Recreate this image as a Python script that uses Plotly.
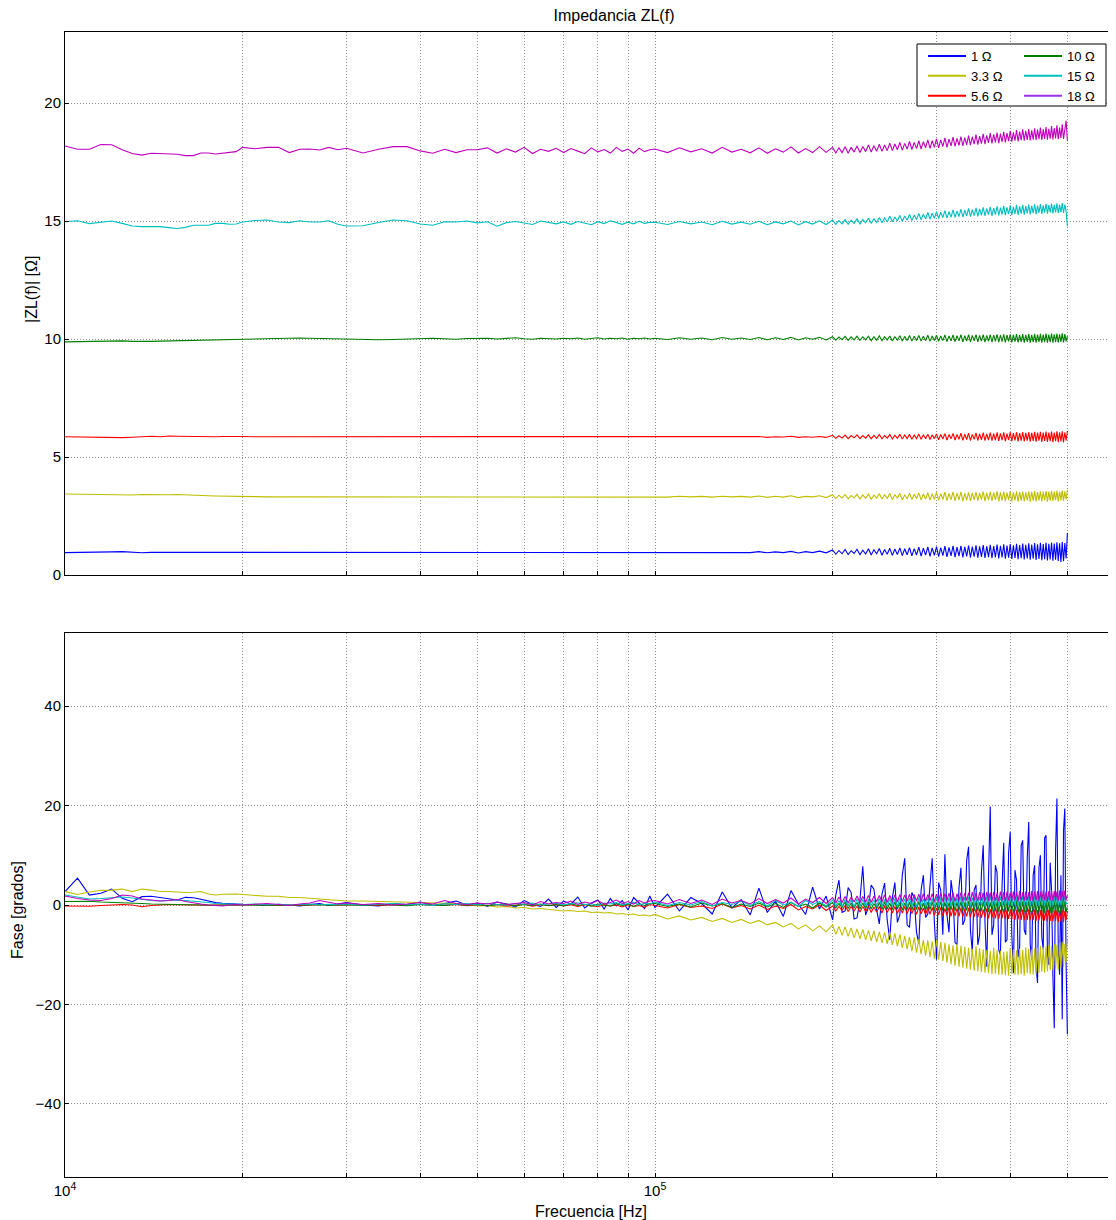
import plotly.graph_objects as go

# ---------------- data ----------------
FREQ_KHZ = [
    10, 10.5, 11, 11.5, 12, 12.5, 13, 13.5, 14, 14.5, 15, 15.5, 16, 16.5, 17, 17.5, 18, 18.5, 19, 19.5,
    20, 21, 22, 23, 24, 25, 26, 27, 28, 29,
    30, 32, 34, 36, 38, 40, 42, 44, 46, 48,
    50, 52, 54, 56, 58, 60, 62, 64, 66, 68,
    70, 72, 74, 76, 78, 80, 82, 84, 86, 88,
    90, 92, 94, 96, 98,
    100, 105, 110, 115, 120, 125, 130, 135, 140, 145,
    150, 155, 160, 165, 170, 175, 180, 185, 190, 195,
    200, 202.5, 205, 207.5, 210, 212.5, 215, 217.5, 220, 222.5,
    225, 227.5, 230, 232.5, 235, 237.5, 240, 242.5, 245, 247.5,
    250, 252.5, 255, 257.5, 260, 262.5, 265, 267.5, 270, 272.5,
    275, 277.5, 280, 282.5, 285, 287.5, 290, 292.5, 295, 297.5,
    300, 302.5, 305, 307.5, 310, 312.5, 315, 317.5, 320, 322.5,
    325, 327.5, 330, 332.5, 335, 337.5, 340, 342.5, 345, 347.5,
    350, 352.5, 355, 357.5, 360, 362.5, 365, 367.5, 370, 372.5,
    375, 377.5, 380, 382.5, 385, 387.5, 390, 392.5, 395, 397.5,
    400, 402.5, 405, 407.5, 410, 412.5, 415, 417.5, 420, 422.5,
    425, 427.5, 430, 432.5, 435, 437.5, 440, 442.5, 445, 447.5,
    450, 452.5, 455, 457.5, 460, 462.5, 465, 467.5, 470, 472.5,
    475, 477.5, 480, 482.5, 485, 487.5, 490, 492.5, 495, 497.5,
    500,
]

SERIES_NAMES = ["1 Ω", "3.3 Ω", "5.6 Ω", "10 Ω", "15 Ω", "18 Ω"]
LINE_COLORS = ["#0000ff", "#bfbf00", "#ff0000", "#008000", "#00bfbf", "#bf00bf"]
LEGEND_COLORS = ["#0000ff", "#bfbf00", "#ff0000", "#008000", "#00bfbf", "#9933e6"]

# |ZL(f)| in ohm
ZL_1 = [
    0.95, 0.95, 0.96, 0.97, 0.98, 0.99, 0.95, 0.94, 0.96, 0.96, 0.96, 0.96, 0.96, 0.96, 0.96, 0.96, 0.96, 0.96, 0.96, 0.96,
    0.96, 0.96, 0.96, 0.95, 0.96, 0.96, 0.96, 0.96, 0.95, 0.96,
    0.96, 0.95, 0.96, 0.96, 0.95, 0.96, 0.96, 0.96, 0.95, 0.96,
    0.96, 0.95, 0.96, 0.96, 0.96, 0.95, 0.96, 0.96, 0.95, 0.96,
    0.96, 0.96, 0.95, 0.96, 0.96, 0.95, 0.97, 0.95, 0.96, 0.96,
    0.95, 0.97, 0.95, 0.96, 0.96,
    0.97, 0.95, 0.98, 0.96, 0.97, 0.95, 0.98, 0.96, 0.97, 0.95,
    0.99, 0.94, 0.98, 0.95, 1.00, 0.93, 0.99, 0.95, 1.01, 0.94,
    1.06, 0.88, 1.04, 0.90, 1.08, 0.87, 1.03, 0.91, 1.09, 0.86,
    1.05, 0.89, 1.11, 0.85, 1.07, 0.90, 1.12, 0.84, 1.08, 0.88,
    1.13, 0.83, 1.10, 0.87, 1.15, 0.82, 1.11, 0.86, 1.16, 0.81,
    1.12, 0.85, 1.18, 0.80, 1.14, 0.84, 1.19, 0.79, 1.15, 0.83,
    1.20, 0.78, 1.16, 0.82, 1.22, 0.77, 1.17, 0.81, 1.23, 0.76,
    1.18, 0.80, 1.24, 0.75, 1.19, 0.79, 1.25, 0.74, 1.20, 0.78,
    1.26, 0.73, 1.21, 0.77, 1.27, 0.72, 1.22, 0.76, 1.28, 0.71,
    1.23, 0.75, 1.29, 0.70, 1.24, 0.74, 1.30, 0.69, 1.25, 0.73,
    1.31, 0.68, 1.26, 0.72, 1.32, 0.67, 1.27, 0.71, 1.33, 0.66,
    1.28, 0.70, 1.34, 0.65, 1.29, 0.69, 1.35, 0.64, 1.30, 0.68,
    1.36, 0.63, 1.31, 0.67, 1.37, 0.62, 1.32, 0.66, 1.38, 0.61,
    1.33, 0.65, 1.39, 0.60, 1.34, 0.55, 1.40, 0.58, 1.35, 0.70,
    1.78,
]
ZL_3_3 = [
    3.43, 3.42, 3.41, 3.40, 3.39, 3.38, 3.39, 3.41, 3.40, 3.39, 3.40, 3.41, 3.39, 3.37, 3.36, 3.36, 3.35, 3.35, 3.34, 3.33,
    3.32, 3.32, 3.31, 3.31, 3.32, 3.31, 3.30, 3.30, 3.31, 3.30,
    3.30, 3.30, 3.29, 3.30, 3.30, 3.29, 3.30, 3.30, 3.29, 3.30,
    3.30, 3.29, 3.30, 3.29, 3.30, 3.30, 3.29, 3.30, 3.30, 3.29,
    3.30, 3.29, 3.31, 3.30, 3.29, 3.30, 3.31, 3.29, 3.30, 3.30,
    3.29, 3.31, 3.30, 3.29, 3.31,
    3.32, 3.30, 3.34, 3.31, 3.33, 3.30, 3.34, 3.31, 3.33, 3.30,
    3.35, 3.29, 3.34, 3.30, 3.36, 3.28, 3.33, 3.31, 3.36, 3.28,
    3.40, 3.24, 3.38, 3.26, 3.41, 3.23, 3.37, 3.27, 3.42, 3.22,
    3.39, 3.25, 3.43, 3.21, 3.38, 3.26, 3.44, 3.22, 3.40, 3.24,
    3.45, 3.20, 3.41, 3.25, 3.46, 3.19, 3.40, 3.23, 3.47, 3.20,
    3.42, 3.24, 3.48, 3.18, 3.43, 3.22, 3.49, 3.17, 3.44, 3.21,
    3.50, 3.16, 3.45, 3.20, 3.51, 3.15, 3.46, 3.19, 3.52, 3.14,
    3.47, 3.18, 3.52, 3.13, 3.46, 3.17, 3.50, 3.14, 3.48, 3.18,
    3.51, 3.15, 3.47, 3.19, 3.53, 3.13, 3.48, 3.17, 3.52, 3.14,
    3.49, 3.18, 3.54, 3.12, 3.50, 3.16, 3.53, 3.13, 3.49, 3.17,
    3.54, 3.12, 3.50, 3.16, 3.55, 3.11, 3.51, 3.15, 3.54, 3.12,
    3.50, 3.16, 3.55, 3.11, 3.52, 3.15, 3.56, 3.12, 3.51, 3.16,
    3.55, 3.12, 3.52, 3.16, 3.56, 3.11, 3.53, 3.15, 3.57, 3.13,
    3.53, 3.17, 3.57, 3.12, 3.54, 3.16, 3.58, 3.14, 3.55, 3.20,
    3.60,
]
ZL_5_6 = [
    5.86, 5.85, 5.83, 5.81, 5.80, 5.82, 5.84, 5.87, 5.88, 5.86, 5.89, 5.88, 5.87, 5.86, 5.85, 5.86, 5.86, 5.87, 5.86, 5.86,
    5.87, 5.86, 5.86, 5.85, 5.86, 5.86, 5.85, 5.86, 5.86, 5.85,
    5.86, 5.86, 5.85, 5.86, 5.86, 5.85, 5.86, 5.87, 5.86, 5.85,
    5.86, 5.86, 5.85, 5.86, 5.86, 5.86, 5.85, 5.86, 5.84, 5.86,
    5.86, 5.85, 5.86, 5.86, 5.85, 5.86, 5.86, 5.85, 5.86, 5.85,
    5.86, 5.86, 5.85, 5.86, 5.85,
    5.86, 5.84, 5.87, 5.85, 5.86, 5.84, 5.87, 5.85, 5.86, 5.84,
    5.87, 5.83, 5.86, 5.85, 5.88, 5.83, 5.86, 5.84, 5.87, 5.83,
    5.92, 5.79, 5.90, 5.80, 5.93, 5.78, 5.91, 5.81, 5.94, 5.78,
    5.91, 5.80, 5.94, 5.77, 5.92, 5.79, 5.95, 5.77, 5.91, 5.80,
    5.95, 5.76, 5.92, 5.79, 5.96, 5.76, 5.93, 5.78, 5.96, 5.75,
    5.93, 5.78, 5.97, 5.75, 5.94, 5.77, 5.97, 5.74, 5.93, 5.78,
    5.98, 5.73, 5.95, 5.76, 5.99, 5.72, 5.95, 5.77, 6.00, 5.72,
    5.96, 5.75, 6.01, 5.71, 5.97, 5.74, 6.01, 5.70, 5.96, 5.75,
    6.02, 5.70, 5.98, 5.73, 6.03, 5.69, 5.98, 5.72, 6.03, 5.69,
    5.99, 5.72, 6.04, 5.68, 6.00, 5.71, 6.04, 5.67, 5.99, 5.72,
    6.05, 5.67, 6.01, 5.70, 6.05, 5.66, 6.01, 5.69, 6.06, 5.66,
    6.02, 5.69, 6.06, 5.65, 6.02, 5.68, 6.07, 5.65, 6.03, 5.69,
    6.07, 5.64, 6.03, 5.68, 6.08, 5.64, 6.03, 5.67, 6.08, 5.63,
    6.04, 5.67, 6.09, 5.63, 6.05, 5.66, 6.09, 5.62, 6.04, 5.70,
    6.10,
]
ZL_10 = [
    9.88, 9.89, 9.89, 9.90, 9.91, 9.92, 9.90, 9.89, 9.90, 9.91, 9.92, 9.93, 9.93, 9.94, 9.95, 9.96, 9.97, 9.98, 9.99, 10.00,
    10.00, 10.01, 10.02, 10.03, 10.03, 10.04, 10.03, 10.02, 10.03, 10.02,
    10.01, 9.99, 9.97, 9.98, 10.00, 10.02, 10.03, 10.01, 9.99, 10.02,
    10.04, 10.03, 10.00, 10.02, 10.05, 10.01, 9.99, 10.03, 10.02, 10.00,
    10.03, 10.01, 10.04, 9.99, 10.02, 10.05, 10.00, 10.03, 10.01, 10.04,
    9.99, 10.03, 10.01, 10.04, 10.00,
    10.03, 9.98, 10.05, 9.99, 10.04, 9.97, 10.06, 9.99, 10.04, 9.98,
    10.06, 9.97, 10.05, 9.98, 10.07, 9.96, 10.05, 9.99, 10.07, 9.96,
    10.10, 9.95, 10.08, 9.97, 10.11, 9.94, 10.09, 9.96, 10.12, 9.94,
    10.09, 9.96, 10.12, 9.93, 10.10, 9.95, 10.13, 9.93, 10.10, 9.96,
    10.13, 9.92, 10.10, 9.95, 10.14, 9.92, 10.11, 9.94, 10.15, 9.91,
    10.12, 9.94, 10.15, 9.91, 10.12, 9.93, 10.16, 9.90, 10.13, 9.94,
    10.16, 9.90, 10.13, 9.93, 10.17, 9.89, 10.13, 9.92, 10.17, 9.89,
    10.14, 9.92, 10.18, 9.88, 10.14, 9.91, 10.18, 9.88, 10.15, 9.92,
    10.18, 9.88, 10.15, 9.91, 10.19, 9.87, 10.15, 9.90, 10.19, 9.87,
    10.16, 9.90, 10.20, 9.87, 10.16, 9.89, 10.20, 9.86, 10.17, 9.90,
    10.20, 9.86, 10.17, 9.89, 10.21, 9.86, 10.17, 9.88, 10.21, 9.85,
    10.18, 9.88, 10.22, 9.85, 10.18, 9.87, 10.22, 9.85, 10.19, 9.88,
    10.22, 9.85, 10.19, 9.87, 10.23, 9.84, 10.19, 9.87, 10.23, 9.84,
    10.20, 9.87, 10.23, 9.85, 10.20, 9.88, 10.24, 9.86, 10.21, 9.90,
    10.12,
]
ZL_15 = [
    14.97, 15.01, 14.89, 14.96, 15.00, 14.90, 14.79, 14.76, 14.76, 14.76, 14.72, 14.68, 14.73, 14.82, 14.82, 14.82, 14.90, 14.90, 14.86, 14.87,
    14.96, 15.02, 15.04, 14.96, 14.93, 15.01, 14.96, 14.96, 15.01, 14.86,
    14.79, 14.80, 14.94, 15.04, 15.01, 14.87, 14.82, 14.97, 14.96, 15.00,
    14.92, 14.97, 14.78, 14.93, 14.98, 14.90, 14.85, 15.00, 14.93, 14.88,
    14.96, 14.86, 14.98, 14.90, 14.84, 14.97, 14.89, 15.01, 14.92, 14.86,
    14.95, 14.88, 14.99, 14.90, 14.94,
    14.95, 14.85, 14.98, 14.88, 14.96, 14.84, 14.99, 14.87, 14.95, 14.86,
    14.99, 14.84, 14.96, 14.88, 15.00, 14.83, 14.97, 14.87, 15.01, 14.85,
    15.04, 14.86, 15.02, 14.88, 15.06, 14.86, 15.04, 14.90, 15.09, 14.88,
    15.07, 14.92, 15.12, 14.90, 15.10, 14.94, 15.15, 14.93, 15.13, 14.96,
    15.20, 14.97, 15.17, 15.00, 15.24, 14.99, 15.21, 15.03, 15.28, 15.02,
    15.25, 15.06, 15.32, 15.05, 15.29, 15.09, 15.36, 15.08, 15.33, 15.11,
    15.40, 15.10, 15.37, 15.14, 15.44, 15.12, 15.40, 15.16, 15.47, 15.15,
    15.43, 15.19, 15.50, 15.17, 15.46, 15.21, 15.53, 15.19, 15.48, 15.23,
    15.56, 15.20, 15.51, 15.24, 15.58, 15.22, 15.53, 15.26, 15.60, 15.22,
    15.55, 15.27, 15.62, 15.24, 15.57, 15.28, 15.64, 15.25, 15.58, 15.29,
    15.66, 15.25, 15.60, 15.30, 15.68, 15.26, 15.62, 15.31, 15.69, 15.27,
    15.63, 15.32, 15.70, 15.28, 15.64, 15.33, 15.71, 15.29, 15.65, 15.34,
    15.72, 15.30, 15.66, 15.35, 15.73, 15.31, 15.67, 15.36, 15.74, 15.32,
    15.68, 15.36, 15.75, 15.33, 15.69, 15.37, 15.76, 15.34, 15.70, 15.40,
    14.78,
]
ZL_18 = [
    18.18, 18.04, 18.04, 18.24, 18.23, 18.02, 17.86, 17.79, 17.87, 17.86, 17.84, 17.83, 17.77, 17.77, 17.88, 17.88, 17.84, 17.87, 17.90, 17.94,
    18.12, 18.06, 18.12, 18.12, 17.90, 18.04, 18.05, 18.01, 18.12, 18.02,
    18.08, 17.88, 18.04, 18.15, 18.15, 17.97, 17.87, 18.04, 17.90, 18.02,
    18.02, 18.10, 17.88, 18.06, 17.92, 18.12, 17.86, 18.04, 17.95, 18.08,
    17.90, 18.07, 17.96, 17.85, 18.10, 17.93, 18.03, 17.88, 18.12, 17.95,
    18.05, 17.87, 18.09, 17.94, 18.02,
    18.05, 17.90, 18.10, 17.93, 18.06, 17.88, 18.12, 17.92, 18.04, 17.89,
    18.10, 17.87, 18.06, 17.92, 18.14, 17.88, 18.07, 17.90, 18.15, 17.91,
    18.12, 17.88, 18.10, 17.90, 18.15, 17.87, 18.12, 17.92, 18.18, 17.90,
    18.16, 17.94, 18.22, 17.92, 18.19, 17.96, 18.25, 17.95, 18.22, 17.98,
    18.30, 17.98, 18.26, 18.02, 18.33, 18.00, 18.29, 18.05, 18.37, 18.03,
    18.33, 18.07, 18.40, 18.05, 18.36, 18.10, 18.44, 18.08, 18.40, 18.12,
    18.48, 18.10, 18.44, 18.15, 18.52, 18.12, 18.47, 18.18, 18.55, 18.16,
    18.50, 18.20, 18.58, 18.18, 18.53, 18.23, 18.62, 18.21, 18.57, 18.26,
    18.66, 18.24, 18.60, 18.28, 18.69, 18.26, 18.63, 18.31, 18.72, 18.29,
    18.67, 18.33, 18.75, 18.30, 18.70, 18.35, 18.78, 18.33, 18.72, 18.38,
    18.82, 18.36, 18.76, 18.40, 18.85, 18.37, 18.79, 18.42, 18.88, 18.40,
    18.82, 18.44, 18.90, 18.41, 18.84, 18.45, 18.93, 18.43, 18.87, 18.47,
    18.96, 18.44, 18.89, 18.48, 18.98, 18.45, 18.91, 18.49, 19.02, 18.46,
    18.94, 18.50, 19.05, 18.47, 18.96, 18.52, 19.10, 18.48, 18.98, 19.25,
    18.40,
]

# Fase in grados
FASE_1 = [
    2.7, 5.4, 2.0, 2.35, 3.2, 1.34, 0.67, 1.68, 1.75, 1.54, 1.34, 1.0, 1.54, 1.47, 1.14, 0.8, 0.47, 0.34, 0.2, 0.2,
    0.13, 0.1, -0.1, 0.15, 0.0, -0.2, 0.1, 0.3, -0.1, 0.2,
    0.5, 0.0, -0.2, 0.3, 0.1, 0.6, -0.1, 0.3, 0.8, 0.0,
    0.4, -0.3, 0.6, 0.2, -0.4, 0.9, 0.1, -0.3, 1.2, -0.5,
    0.8, 0.2, 1.6, -0.6, 0.4, 1.0, -0.8, 1.3, -0.2, 0.9,
    -1.0, 1.5, 0.3, -0.7, 1.8,
    -0.5, 2.2, -1.2, 1.5, 0.3, -1.8, 2.6, -0.6, 1.1, -2.0,
    3.4, -1.5, 0.8, -2.3, 2.9, 0.2, -1.9, 3.6, -0.8, 1.8,
    -3.0, 2.0, 5.0, -1.5, -1.2, 3.5, 2.5, -2.8, -2.6, 1.0,
    7.8, -2.0, -0.5, 4.0, 3.2, -1.0, -3.8, 2.2, 4.4, -3.0,
    -7.0, 1.5, 4.5, -3.5, -2.0, 6.0, 9.4, -4.0, -4.5, 2.5,
    1.5, -5.5, -7.7, 3.0, 6.0, -2.5, -1.8, 4.0, 9.4, -3.5,
    -11.0, 4.5, 3.0, -6.0, 10.2, -2.0, -5.5, 5.0, 1.8, -7.5,
    -8.0, 3.5, 7.5, -4.0, -3.0, 9.0, 11.7, -5.0, -9.5, 3.0,
    4.0, -8.0, -6.0, 6.5, 12.0, -3.5, -12.4, 5.5, 19.8, -6.0,
    -4.0, 8.0, 6.5, -9.0, -10.0, 4.0, 12.5, -7.5, -7.0, 10.5,
    14.7, -6.0, -13.7, 7.0, 5.0, -10.5, -8.5, 12.0, 13.0, -5.0,
    -6.0, 9.5, 16.7, -8.0, -11.0, 6.0, 8.0, -12.5, -15.7, 7.5,
    10.0, -6.5, -9.0, 13.5, 14.0, -10.0, -12.0, 8.5, 3.0, -14.0,
    -24.8, 11.0, 21.4, -9.0, -14.0, 6.0, -23.0, 15.0, 19.4, -12.0,
    -26.0,
]
FASE_3_3 = [
    2.7, 2.1, 2.6, 2.95, 3.0, 3.2, 2.7, 3.2, 3.0, 2.7, 2.7, 2.55, 2.5, 2.55, 2.7, 2.2, 2.0, 2.15, 2.2, 2.2,
    2.1, 1.9, 1.75, 1.75, 1.5, 1.5, 1.35, 1.3, 1.15, 0.95,
    0.8, 0.8, 0.74, 0.67, 0.6, 0.55, 0.5, 0.35, 0.3, 0.1,
    -0.2, -0.1, -0.4, -0.3, -0.6, -0.5, -0.8, -0.7, -0.9, -1.0,
    -1.2, -1.1, -1.3, -1.2, -1.5, -1.4, -1.6, -1.5, -1.8, -1.7,
    -1.9, -1.8, -2.1, -2.0, -2.2,
    -1.9, -2.8, -2.2, -3.0, -2.5, -3.3, -2.7, -3.5, -2.9, -3.7,
    -3.1, -4.0, -3.5, -4.4, -3.7, -4.8, -4.0, -5.2, -4.2, -5.4,
    -4.0, -5.9, -4.3, -6.1, -4.4, -6.3, -4.6, -6.6, -4.8, -6.8,
    -4.9, -7.0, -5.1, -7.2, -5.2, -7.4, -5.4, -7.6, -5.5, -7.8,
    -5.4, -8.0, -5.7, -8.3, -5.9, -8.6, -6.2, -8.9, -6.4, -9.3,
    -6.5, -9.6, -6.8, -9.9, -7.0, -10.2, -7.1, -10.5, -7.3, -10.8,
    -7.0, -11.0, -7.4, -11.3, -7.6, -11.6, -7.9, -11.9, -8.1, -12.2,
    -7.8, -12.4, -8.2, -12.6, -8.4, -12.8, -8.6, -13.0, -8.8, -13.2,
    -8.3, -13.3, -8.7, -13.5, -8.9, -13.6, -9.0, -13.7, -9.2, -13.9,
    -8.6, -13.8, -9.0, -14.0, -9.2, -14.0, -9.4, -14.1, -9.3, -14.2,
    -8.6, -13.8, -8.9, -14.0, -9.1, -14.1, -8.8, -13.9, -9.0, -14.2,
    -8.5, -13.7, -8.8, -13.9, -8.9, -14.0, -8.7, -13.8, -8.6, -13.6,
    -8.2, -13.4, -8.5, -13.6, -8.3, -13.3, -8.0, -13.1, -8.2, -13.0,
    -7.8, -12.8, -8.0, -13.0, -7.6, -12.6, -7.4, -12.4, -7.8, -11.5,
    -7.0,
]
FASE_5_6 = [
    -0.2, -0.3, -0.25, -0.1, 0.0, 0.1, 0.0, -0.35, -0.1, 0.05, 0.1, 0.05, 0.0, 0.05, -0.05, -0.05, 0.0, 0.05, 0.1, 0.05,
    0.0, 0.1, -0.05, 0.05, 0.0, -0.1, 0.05, 0.0, 0.1, -0.05,
    0.0, 0.1, -0.1, 0.05, 0.0, 0.15, -0.1, 0.0, 0.1, -0.15,
    0.05, -0.1, 0.1, -0.2, 0.0, 0.15, -0.25, 0.05, -0.1, 0.1,
    -0.2, 0.05, -0.3, 0.1, -0.15, -0.35, 0.1, -0.2, 0.0, -0.4,
    0.05, -0.3, -0.1, -0.45, 0.1,
    -0.1, -0.6, 0.1, -0.5, -0.2, -0.7, 0.2, -0.6, -0.1, -0.8,
    0.0, -0.9, -0.2, -0.7, 0.1, -1.0, -0.3, -0.8, 0.0, -1.1,
    -0.2, -1.2, -0.3, -1.1, -0.1, -1.3, -0.3, -1.2, -0.2, -1.4,
    -0.3, -1.3, -0.2, -1.5, -0.4, -1.4, -0.3, -1.6, -0.2, -1.5,
    -0.4, -1.6, -0.3, -1.7, -0.5, -1.6, -0.3, -1.8, -0.4, -1.7,
    -0.5, -1.9, -0.4, -1.8, -0.6, -2.0, -0.4, -1.9, -0.5, -2.1,
    -0.6, -2.0, -0.5, -2.2, -0.7, -2.1, -0.5, -2.3, -0.6, -2.2,
    -0.7, -2.3, -0.6, -2.4, -0.8, -2.3, -0.6, -2.5, -0.7, -2.4,
    -0.8, -2.5, -0.7, -2.6, -0.9, -2.5, -0.7, -2.7, -0.8, -2.6,
    -0.9, -2.7, -0.7, -2.8, -1.0, -2.7, -0.8, -2.9, -0.9, -2.8,
    -0.9, -2.9, -0.8, -3.0, -1.0, -2.9, -0.8, -3.0, -0.9, -3.1,
    -1.0, -3.0, -0.8, -3.1, -1.1, -3.0, -0.9, -3.2, -1.0, -3.1,
    -1.0, -3.2, -0.9, -3.1, -1.1, -3.3, -0.9, -3.2, -1.0, -3.3,
    -1.1, -3.2, -0.9, -3.4, -1.1, -3.3, -1.0, -3.4, -1.2, -3.0,
    -1.2,
]
FASE_10 = [
    0.7, 0.8, 0.75, 0.6, 0.55, 0.5, 0.4, 0.3, 0.2, 0.15, 0.1, 0.05, 0.05, 0.0, 0.05, 0.0, -0.05, 0.0, 0.05, 0.0,
    0.0, -0.05, 0.05, 0.0, -0.1, 0.05, 0.0, 0.1, -0.05, 0.0,
    0.05, -0.1, 0.1, 0.0, -0.15, 0.1, 0.0, -0.1, 0.15, -0.05,
    0.1, -0.15, 0.05, 0.2, -0.2, 0.1, -0.1, 0.2, -0.15, 0.05,
    -0.2, 0.25, -0.1, 0.15, -0.25, 0.2, -0.05, -0.2, 0.3, -0.1,
    0.2, -0.3, 0.25, -0.1, 0.3,
    0.3, -0.3, 0.2, -0.4, 0.4, -0.2, 0.3, -0.5, 0.2, -0.3,
    0.4, -0.4, 0.3, -0.5, 0.5, -0.3, 0.2, -0.6, 0.4, -0.4,
    0.5, -0.6, 0.3, -0.5, 0.6, -0.7, 0.4, -0.6, 0.5, -0.8,
    0.4, -0.7, 0.6, -0.8, 0.3, -0.7, 0.5, -0.9, 0.6, -0.8,
    0.4, -0.9, 0.6, -0.8, 0.5, -1.0, 0.4, -0.9, 0.6, -1.0,
    0.5, -0.9, 0.7, -1.0, 0.4, -1.1, 0.6, -0.9, 0.7, -1.1,
    0.5, -1.0, 0.7, -1.1, 0.6, -1.2, 0.5, -1.0, 0.8, -1.2,
    0.6, -1.1, 0.7, -1.2, 0.5, -1.1, 0.8, -1.3, 0.6, -1.2,
    0.7, -1.2, 0.6, -1.3, 0.8, -1.2, 0.7, -1.4, 0.6, -1.3,
    0.8, -1.3, 0.7, -1.4, 0.6, -1.3, 0.8, -1.4, 0.7, -1.3,
    0.8, -1.4, 0.7, -1.3, 0.9, -1.5, 0.7, -1.4, 0.8, -1.5,
    0.7, -1.4, 0.9, -1.5, 0.8, -1.4, 0.7, -1.6, 0.9, -1.5,
    0.8, -1.5, 0.7, -1.6, 0.9, -1.4, 0.8, -1.6, 0.7, -1.5,
    0.9, -1.6, 0.8, -1.5, 0.7, -1.6, 0.9, -1.5, 0.8, -1.4,
    -0.5,
]
FASE_15 = [
    2.0, 1.6, 1.2, 1.3, 1.5, 1.6, 1.4, 1.1, 0.9, 0.8, 0.9, 1.0, 0.9, 0.8, 0.6, 0.5, 0.3, 0.2, 0.2, 0.15,
    0.1, 0.2, 0.05, 0.15, 0.0, 0.1, 0.2, 0.0, 0.15, 0.1,
    0.2, 0.0, 0.15, 0.3, 0.05, 0.2, -0.1, 0.25, 0.1, 0.3,
    0.0, 0.35, 0.1, -0.05, 0.3, 0.15, 0.4, 0.0, 0.2, 0.35,
    0.05, 0.3, 0.45, 0.1, 0.25, -0.1, 0.4, 0.2, 0.5, 0.05,
    0.3, 0.55, 0.0, 0.35, 0.2,
    0.6, -0.1, 0.5, 0.0, 0.7, -0.2, 0.5, 0.1, 0.8, -0.1,
    0.7, -0.2, 0.9, 0.0, 0.6, -0.3, 0.9, 0.1, 0.7, -0.2,
    1.0, -0.2, 0.9, -0.3, 1.1, -0.1, 1.0, -0.3, 1.2, -0.2,
    1.1, -0.3, 1.2, -0.1, 1.0, -0.3, 1.3, -0.2, 1.1, -0.3,
    1.3, -0.2, 1.2, -0.3, 1.4, -0.1, 1.2, -0.3, 1.4, -0.2,
    1.3, -0.3, 1.5, -0.2, 1.3, -0.3, 1.5, -0.1, 1.4, -0.3,
    1.5, -0.2, 1.4, -0.3, 1.6, -0.1, 1.5, -0.2, 1.7, -0.3,
    1.5, -0.2, 1.7, -0.1, 1.6, -0.3, 1.7, -0.2, 1.5, -0.1,
    1.7, -0.2, 1.6, -0.1, 1.8, -0.3, 1.7, -0.1, 1.8, -0.2,
    1.7, -0.1, 1.9, -0.2, 1.7, -0.1, 1.8, -0.3, 1.9, -0.1,
    1.8, -0.2, 1.9, 0.0, 1.8, -0.2, 2.0, -0.1, 1.9, 0.0,
    1.8, -0.1, 2.0, -0.2, 1.9, 0.0, 2.0, -0.1, 1.8, -0.2,
    2.0, 0.0, 1.9, -0.1, 2.1, 0.0, 1.9, -0.2, 2.0, 0.0,
    1.9, -0.1, 2.1, 0.0, 2.0, -0.1, 2.1, 0.1, 1.9, 0.2,
    0.4,
]
FASE_18 = [
    1.8, 1.3, 1.0, 0.9, 1.3, 2.0, 1.8, 1.2, 1.0, 0.8, 0.9, 1.1, 0.7, 0.4, 0.2, 0.0, -0.1, -0.2, 0.0, 0.1,
    0.0, 0.15, 0.3, 0.1, -0.1, 0.2, 0.4, 0.9, 0.5, 0.2,
    0.4, 0.1, 0.3, 0.0, 0.2, 0.5, 0.2, 0.9, 0.3, 0.1,
    0.4, 0.2, 0.6, 0.1, 0.3, 0.5, 0.0, 0.7, 0.2, 0.5,
    0.3, 0.8, 0.1, 0.6, 0.3, 0.9, 0.2, 0.5, 1.0, 0.3,
    0.7, 0.2, 0.9, 0.4, 0.8,
    0.9, 0.2, 1.1, 0.3, 1.0, 0.1, 1.2, 0.4, 0.9, 0.2,
    1.3, 0.3, 1.1, 0.4, 1.4, 0.2, 1.2, 0.5, 1.5, 0.3,
    1.5, 0.4, 1.6, 0.5, 1.7, 0.4, 1.6, 0.6, 1.8, 0.5,
    1.7, 0.6, 1.9, 0.5, 1.8, 0.7, 1.9, 0.6, 2.0, 0.5,
    1.9, 0.7, 2.0, 0.6, 2.1, 0.7, 2.0, 0.8, 2.2, 0.6,
    2.1, 0.8, 2.2, 0.7, 2.3, 0.8, 2.1, 0.9, 2.3, 0.7,
    2.2, 0.8, 2.4, 0.7, 2.3, 0.9, 2.4, 0.8, 2.5, 0.7,
    2.3, 0.9, 2.5, 0.8, 2.4, 0.9, 2.5, 0.8, 2.6, 0.9,
    2.4, 0.8, 2.6, 0.9, 2.5, 0.7, 2.6, 0.9, 2.5, 0.8,
    2.6, 0.9, 2.5, 0.8, 2.7, 0.9, 2.6, 0.7, 2.7, 0.9,
    2.5, 0.8, 2.7, 0.9, 2.6, 0.7, 2.8, 0.9, 2.6, 0.8,
    2.7, 0.9, 2.6, 0.8, 2.8, 0.7, 2.7, 0.9, 2.8, 0.8,
    2.7, 0.8, 2.9, 0.9, 2.7, 0.7, 2.8, 0.9, 2.9, 0.8,
    2.8, 0.9, 2.7, 0.8, 2.9, 0.9, 2.8, 0.7, 2.9, 1.0,
    2.0,
]

ZL_SERIES = [ZL_1, ZL_3_3, ZL_5_6, ZL_10, ZL_15, ZL_18]
FASE_SERIES = [FASE_1, FASE_3_3, FASE_5_6, FASE_10, FASE_15, FASE_18]

for arr in ZL_SERIES + FASE_SERIES:
    if len(arr) != len(FREQ_KHZ):
        raise ValueError(f"length mismatch {len(arr)} vs {len(FREQ_KHZ)}")

freq_hz = [f * 1000 for f in FREQ_KHZ]

# ---------------- geometry (reference pixels; page body has an 8px margin) ----------------
REF_W, REF_H = 1116, 1220
OFF = 8
W, H = REF_W - OFF, REF_H - OFF
PLOT_L = 65          # left edge of plot area in reference pixels
ML = PLOT_L - OFF
FONT = "Liberation Sans, Arial, Helvetica, sans-serif"


def px_x(p):
    return (p - PLOT_L) / (REF_W - PLOT_L)


def px_y(p):
    return 1 - (p - OFF) / H


fig = go.Figure()

for name, col, vals in zip(SERIES_NAMES, LINE_COLORS, ZL_SERIES):
    fig.add_trace(go.Scatter(x=freq_hz, y=vals, mode="lines", name=name,
                             line=dict(color=col, width=1.1),
                             xaxis="x", yaxis="y", showlegend=False))
for name, col, vals in zip(SERIES_NAMES, LINE_COLORS, FASE_SERIES):
    fig.add_trace(go.Scatter(x=freq_hz, y=vals, mode="lines", name=name,
                             line=dict(color=col, width=1.1),
                             xaxis="x2", yaxis="y2", showlegend=False))

# legend entries (two columns)
for i, (name, col) in enumerate(zip(SERIES_NAMES, LEGEND_COLORS)):
    fig.add_trace(go.Scatter(x=[None], y=[None], mode="lines", name=name,
                             line=dict(color=col, width=2),
                             xaxis="x", yaxis="y", showlegend=True,
                             legend="legend" if i < 3 else "legend2"))

TICKVALS = [1e4, 2e4, 3e4, 4e4, 5e4, 6e4, 7e4, 8e4, 9e4, 1e5, 2e5, 3e5, 4e5, 5e5, 6e5]
TICKTEXT = ["10<sup>4</sup>", "", "", "", "", "", "", "", "", "10<sup>5</sup>", "", "", "", "", ""]

XMAX = 4 + (REF_W - PLOT_L) / 590.0

grid = dict(showgrid=True, gridcolor="#8c8c8c", griddash="1px,2px", gridwidth=1)
common_x = dict(type="log", range=[4, XMAX], tickmode="array", tickvals=TICKVALS, ticktext=TICKTEXT,
                ticks="inside", ticklen=4, tickcolor="black",
                showline=True, linecolor="black", linewidth=1, mirror=True,
                zeroline=False, automargin=False, **grid)
common_y = dict(ticks="inside", ticklen=4, tickcolor="black",
                showline=True, linecolor="black", linewidth=1,
                zeroline=False, automargin=False, **grid)

legend_common = dict(xanchor="left", yanchor="top", bgcolor="rgba(0,0,0,0)", borderwidth=0,
                     font=dict(family=FONT, size=13, color="black"), tracegroupgap=0,
                     itemwidth=38)

fig.update_layout(
    width=W, height=H,
    template="none",
    margin=dict(l=ML, r=0, t=0, b=0),
    paper_bgcolor="white", plot_bgcolor="white",
    font=dict(family=FONT, size=15, color="black"),
    title=dict(text="Impedancia ZL(f)", x=(614 - OFF) / W, xref="container", xanchor="center",
               y=1 - (15 - OFF) / H, yref="container", yanchor="middle",
               font=dict(family=FONT, size=16, color="black")),
    xaxis=dict(domain=[0, 1], anchor="y", showticklabels=False, **common_x),
    yaxis=dict(domain=[px_y(575), px_y(32)], anchor="x", range=[0, 543 / 23.6],
               tick0=0, dtick=5, **common_y),
    xaxis2=dict(domain=[0, 1], anchor="y2", showticklabels=True, **common_x),
    yaxis2=dict(domain=[px_y(1177), px_y(633)], anchor="x2", range=[-54.7, 54.7],
                tick0=0, dtick=20, **common_y),
    legend=dict(x=px_x(923), y=px_y(41), **legend_common),
    legend2=dict(x=px_x(1019), y=px_y(41), **legend_common),
    shapes=[dict(type="rect", xref="paper", yref="paper",
                 x0=px_x(917), x1=px_x(1106), y0=px_y(106), y1=px_y(44),
                 line=dict(color="black", width=1), fillcolor="white", layer="above")],
    annotations=[
        dict(text="|ZL(f)| [Ω]", xref="paper", yref="paper", x=px_x(31), y=px_y(290),
             textangle=-90, showarrow=False, xanchor="center", yanchor="middle",
             font=dict(family=FONT, size=16, color="black")),
        dict(text="Fase [grados]", xref="paper", yref="paper", x=px_x(17), y=px_y(910),
             textangle=-90, showarrow=False, xanchor="center", yanchor="middle",
             font=dict(family=FONT, size=16, color="black")),
        dict(text="Frecuencia [Hz]", xref="paper", yref="paper", x=px_x(591), y=px_y(1211),
             showarrow=False, xanchor="center", yanchor="middle",
             font=dict(family=FONT, size=16, color="black")),
    ],
)

fig.write_html("out.html")
